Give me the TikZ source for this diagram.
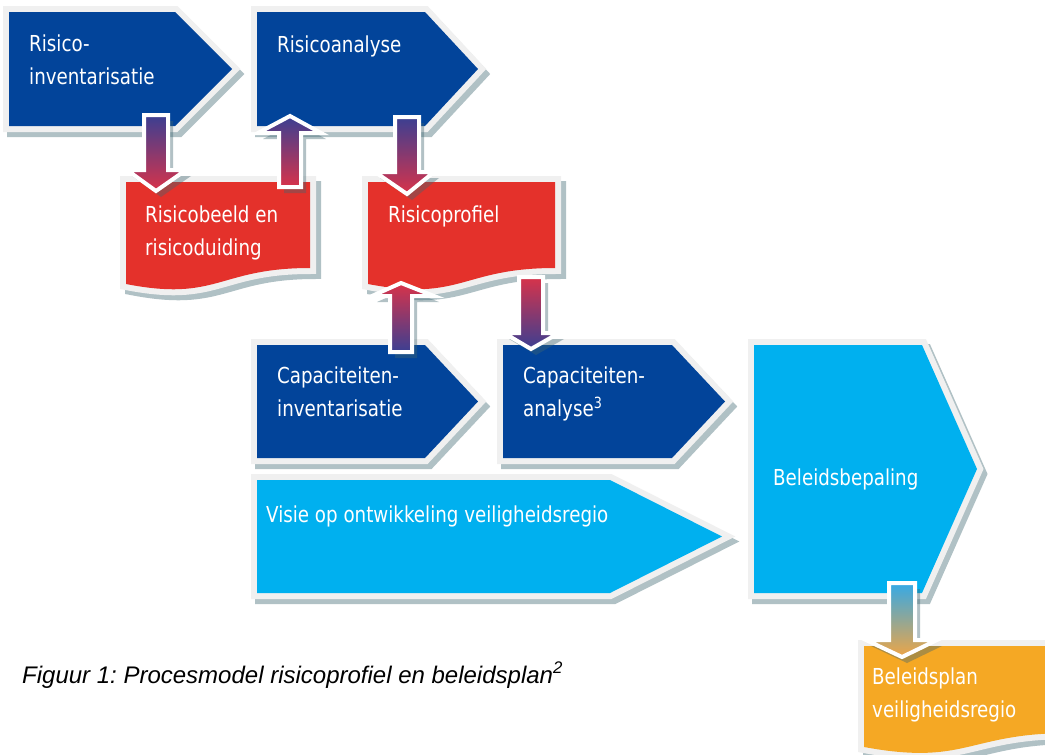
\documentclass[tikz,border=0pt]{standalone}
\usepackage{fontspec}
\newfontfamily\diafont{DejaVu Sans}[FakeStretch=0.83]
\newfontfamily\capfont{Liberation Sans}
\definecolor{dblue}{HTML}{02449A}
\definecolor{rred}{HTML}{E4312B}
\definecolor{lblue}{HTML}{00B0EF}
\definecolor{orng}{HTML}{F5A824}
\definecolor{bord}{HTML}{F0F0F0}
\definecolor{shad}{HTML}{B0C1C5}
\definecolor{shadbase}{HTML}{3F6670}
\definecolor{apurp}{HTML}{3B3F92}
\definecolor{ared}{HTML}{D8334A}
\definecolor{asky}{HTML}{35A9E6}
\definecolor{aorg}{HTML}{EFA545}
% pentagon arrow: L T C X B
\newcommand\pent[5]{(#1,#2) -- (#3,#2) -- (#4,{(#2+#5)/2}) -- (#3,#5) -- (#1,#5) -- cycle}
\newcommand\pentbox[6]{%
  \path[shadowst, shift={(4,5)}] \pent{#1}{#2}{#3}{#4}{#5};
  \path[borderst] \pent{#1}{#2}{#3}{#4}{#5};
  \path[fill=#6] \pent{#1}{#2}{#3}{#4}{#5};}
% document: L T R yR yL yc
\newcommand\docp[6]{(#1,#2) -- (#3,#2) -- (#3,#4) .. controls ({(#1+#3)/2},#4) and ({(#1+#3)/2},#6) .. (#1,#5) -- cycle}
\newcommand\docbox[7]{%
  \path[shadowst, shift={(5,5)}] \docp{#1}{#2}{#3}{#4}{#5}{#6};
  \path[borderst] \docp{#1}{#2}{#3}{#4}{#5}{#6};
  \path[fill=#7] \docp{#1}{#2}{#3}{#4}{#5}{#6};}
% block arrow: x1 x2 y0 yh xl xr yt
\newcommand\barrow[7]{(#1,#3) -- (#2,#3) -- (#2,#4) -- (#6,#4) -- ({(#1+#2)/2},#7) -- (#5,#4) -- (#1,#4) -- cycle}
\newcommand\arrowshadow[7]{%
  \fill[shadbase, fill opacity=0.4, shift={(5,6)}] \barrow{#1}{#2}{#3}{#4}{#5}{#6}{#7};}
\newcommand\blockarrow[9]{%
  \shadedraw[top color=#8, bottom color=#9, draw=white, line width=4, line join=miter] \barrow{#1}{#2}{#3}{#4}{#5}{#6}{#7};}
\begin{document}
\frenchspacing
\begin{tikzpicture}[x=1pt,y=-1pt,
  shadowst/.style={fill=shad, draw=shad, line width=12, line join=miter},
  borderst/.style={fill=bord, draw=bord, line width=12, line join=miter},
  lbl/.style={anchor=base west, inner sep=0pt, align=left, text=white,
    font=\diafont\fontsize{22}{33}\selectfont},
  capst/.style={anchor=base west, inner sep=0pt, text=black,
    font=\capfont\itshape\fontsize{24}{28}\selectfont}]
\clip (0,0) rectangle (1045,755);
\fill[white] (0,0) rectangle (1045,755);

% process shapes
\pentbox{9}{12}{175}{232}{126}{dblue}
\pentbox{257}{12}{425}{478}{126}{dblue}
\docbox{126}{182}{310}{268}{284}{302}{rred}
\docbox{368}{182}{555}{268}{284}{302}{rred}
\pentbox{257}{345}{425}{478}{458}{dblue}
\pentbox{503}{345}{672}{725}{458}{dblue}
\pentbox{257}{480}{610}{722}{593}{lblue}
\pentbox{754}{345}{922}{977}{593}{lblue}
\docbox{864}{646}{1070}{733}{747}{766}{orng}

% connector end points
\coordinate (a1t) at (156,115);  \coordinate (a1h) at (156,191);
\coordinate (a2t) at (290,187);  \coordinate (a2h) at (290,116);
\coordinate (a3t) at (407,117);  \coordinate (a3h) at (407,194);
\coordinate (a4t) at (401,352);  \coordinate (a4h) at (401,283);
\coordinate (a5t) at (531,277);  \coordinate (a5h) at (531,349);
\coordinate (a6t) at (902,583);  \coordinate (a6h) at (902,657);

% arrow shadows
\arrowshadow{144}{168}{115}{170}{127}{186}{191}
\arrowshadow{279}{301}{187}{133}{258}{321}{116}
\arrowshadow{395}{419}{117}{172}{375}{434}{194}
\arrowshadow{390}{412}{352}{296}{372}{434}{283}
\arrowshadow{519}{543}{277}{333}{504}{559}{349}
\arrowshadow{889}{915}{583}{640}{866}{937}{657}

% block arrows
\blockarrow{144}{168}{115}{170}{127}{186}{191}{apurp}{ared}
\blockarrow{279}{301}{187}{133}{258}{321}{116}{apurp}{ared}
\blockarrow{395}{419}{117}{172}{375}{434}{194}{apurp}{ared}
\blockarrow{390}{412}{352}{296}{372}{434}{283}{ared}{apurp}
\blockarrow{519}{543}{277}{333}{504}{559}{349}{ared}{apurp}
\blockarrow{889}{915}{583}{640}{866}{937}{657}{asky}{aorg}

% labels (multi-line nodes are placed at the baseline of their last line)
\node[lbl] (ri) at (29,84) {Risico-\\inventarisatie};
\node[lbl] (ra) at (277,52) {Risicoanalyse};
\node[lbl] (rb) at (145,255) {Risicobeeld en\\risicoduiding};
\node[lbl] (rp) at (388,222) {Risicoprofiel};
\node[lbl] (ci) at (277,416) {Capaciteiten-\\inventarisatie};
\node[lbl] (ca) at (523,416) {Capaciteiten-\\analyse\textsuperscript{3}};
\node[lbl] (vi) at (266,522) {Visie op ontwikkeling veiligheidsregio};
\node[lbl] (bb) at (773,485) {Beleidsbepaling};
\node[lbl] (bp) at (872,717) {Beleidsplan\\veiligheidsregio};
\node[capst] (cap) at (22,683) {Figuur 1: Procesmodel risicoprofiel en beleidsplan\textsuperscript{2}};
\end{tikzpicture}
\end{document}
